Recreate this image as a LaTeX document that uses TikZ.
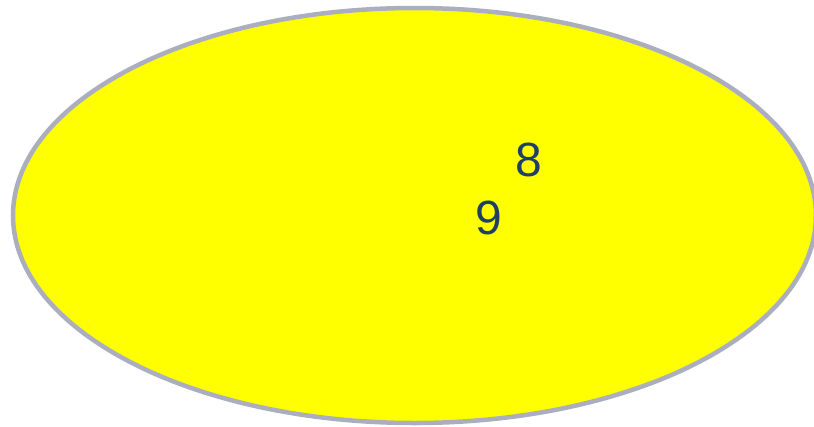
\documentclass[tikz,border=0pt]{standalone}
\usepackage{fontspec}
\usetikzlibrary{shapes.geometric}
\setmainfont{Liberation Sans}
\definecolor{ringgray}{HTML}{ABAEBF}
\definecolor{setyellow}{HTML}{FFFF00}
\definecolor{digitblue}{HTML}{1F3F66}
\tikzset{
  digit/.style={text=digitblue, font=\fontsize{48}{52}\selectfont, inner sep=0pt}
}
\begin{document}
\begin{tikzpicture}[x=1pt,y=-1pt]
\useasboundingbox (0,0) rectangle (814,426);
\node[draw=ringgray, line width=4.5pt, fill=setyellow, ellipse, minimum width=803pt, minimum height=415pt, inner sep=0pt] (set) at (414.5,215.5) {};
\node[digit] (eight) at (529,160) {8};
\node[digit] (nine) at (489,218) {9};
\end{tikzpicture}
\end{document}
